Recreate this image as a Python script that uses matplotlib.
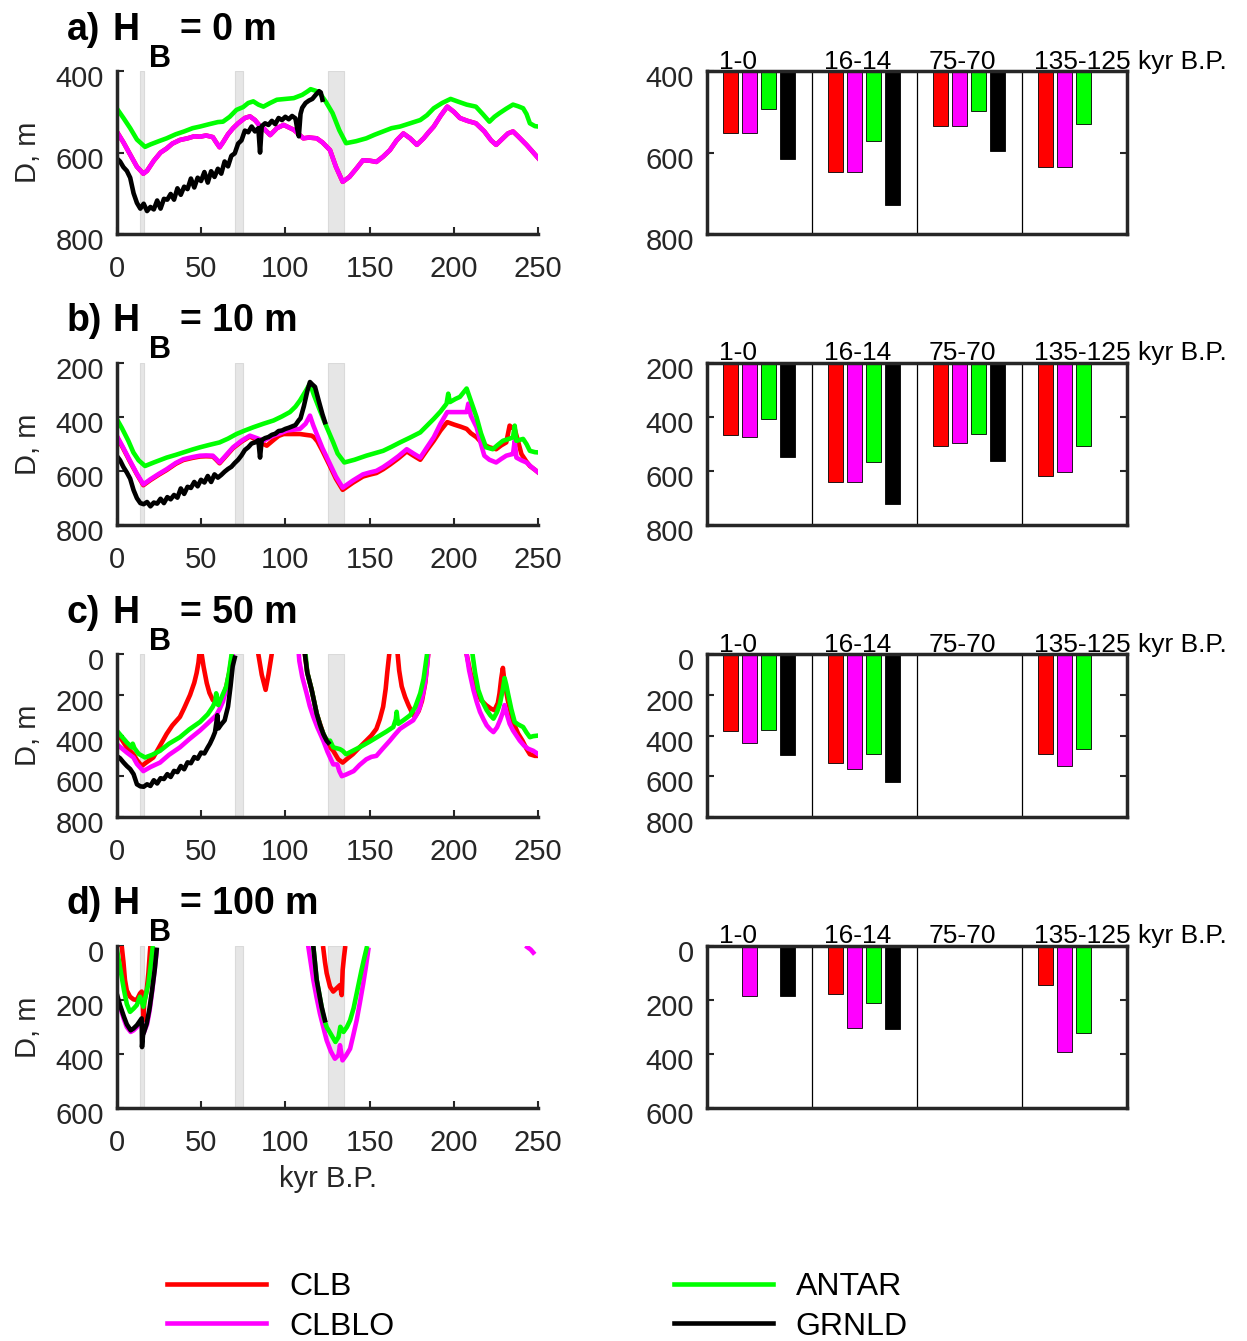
import numpy as np
import matplotlib
matplotlib.use('Agg')
import matplotlib.pyplot as plt
from matplotlib.transforms import ScaledTranslation

plt.rcParams['font.family'] = ['Liberation Sans', 'DejaVu Sans']

nan = np.nan

# time windows (kyr B.P.) shaded on the left and summarised on the right
periods = [(0, 1), (14, 16), (70, 75), (125, 135)]
period_labels = ['1-0', '16-14', '75-70', '135-125']
names = ['CLB', 'CLBLO', 'ANTAR', 'GRNLD']
colors = ['#ff0000', '#ff00ff', '#00ff00', '#000000']
hb_values = [0, 10, 50, 100]
panel_tags = ['a)', 'b)', 'c)', 'd)']
depth_ranges = [(400, 800), (200, 800), (0, 800), (0, 600)]

# ---- D(t) curves, (kyr B.P., depth m); nan breaks a line ----
clblo_a = [(0, 548), (4, 575), (8, 605), (12, 635), (15.8, 652), (18, 645), (22, 620), (26, 600),
           (29.6, 590), (33, 578), (37.5, 569), (42, 565), (46, 560), (49.4, 561), (53, 558), (57, 562),
           (59, 575), (61, 587), (63, 575), (66, 555), (69, 540), (72, 528), (76, 515), (79, 511),
           (82, 520), (85, 535), (87, 540), (91, 557), (95, 540), (99, 532), (102, 538), (105, 544),
           (108, 555), (110.7, 565), (114, 563), (118.6, 565), (122, 575), (126.5, 594), (130, 635),
           (134, 672), (138, 660), (142, 640), (146, 619), (150, 620), (154, 623), (158, 610), (162, 594),
           (166, 570), (170, 553), (174, 565), (178, 581), (182, 565), (185, 550), (188, 536), (192, 510),
           (196, 487), (200, 500), (203.5, 515), (208, 522), (213, 528), (218, 548), (222, 570), (225, 581),
           (229, 565), (232, 553), (235, 548), (238, 560), (243, 581), (246, 595), (250, 614)]
clb_a = list(clblo_a)
antar_a = [(0, 491), (4, 515), (8, 540), (12, 568), (16.8, 586), (20, 580), (25, 572), (29.6, 565),
           (35, 555), (40, 548), (45, 540), (49.4, 536), (55, 530), (60, 525), (63, 524), (67, 512),
           (71, 495), (75, 488), (78, 478), (81, 474), (84, 482), (87, 487), (91, 478), (95, 470),
           (100, 468), (105, 466), (110, 458), (113, 450), (115, 444), (118, 448), (120.5, 454), (124, 475),
           (128, 503), (132, 545), (136, 577), (142, 572), (148, 565), (153, 556), (158, 548), (163, 540),
           (168, 536), (174, 528), (180, 520), (184, 508), (188, 491), (193, 478), (198, 468), (202, 474),
           (207.5, 482), (213, 487), (217, 505), (221, 524), (224, 512), (227, 503), (231, 492), (235, 482),
           (238, 486), (241, 491), (243, 505), (245, 528), (248, 535), (250, 536)]
grnld_a = [(0, 614), (2, 622), (4, 636), (6, 645), (8, 662), (10, 700), (12, 724), (14, 738), (16, 726),
           (18, 744), (20, 734), (22, 740), (24, 718), (26, 738), (28, 714), (30, 716), (32, 702), (34, 716),
           (36, 688), (38, 704), (40, 684), (42, 690), (44, 664), (46, 686), (48, 662), (50, 670), (52, 648),
           (54, 674), (56, 646), (58, 660), (60, 640), (62, 652), (64, 622), (66, 634), (68, 608), (70, 602),
           (72, 578), (74, 570), (76, 546), (78, 550), (80, 536), (82, 548), (84, 540), (85, 600), (86, 535),
           (88, 528), (90, 532), (92, 522), (94, 530), (96, 515), (98, 520), (100, 512), (102, 518),
           (104, 510), (106, 516), (107, 540), (108, 560), (109, 505), (110, 490), (112, 478), (114, 472),
           (116, 468), (118, 458), (120, 449), (121, 452), (122, 470)]

clb_b = [(0, 472), (4, 518), (7.9, 565), (12, 612), (15.8, 652), (20, 633), (25, 613), (29.6, 596),
         (35, 573), (39.5, 559), (45, 551), (49.4, 546), (53, 545), (57, 546), (59, 558), (61, 571),
         (65, 543), (69, 515), (74, 491), (79, 472), (83, 485), (87, 500), (89, 506), (93, 485), (96, 470),
         (99, 463), (104, 463), (108.7, 463), (112, 466), (115.6, 469), (117, 475), (119, 490), (122, 525),
         (126.5, 582), (130, 628), (134, 669), (140, 643), (146, 620), (150, 613), (154, 607), (158, 593),
         (162, 576), (167, 553), (172, 527), (176, 543), (180, 558), (184, 522), (188, 488), (192, 450),
         (196, 419), (200, 428), (204, 436), (207.5, 444), (210, 460), (213.4, 475), (217, 500), (221, 512),
         (225, 519), (228, 505), (231, 494), (233, 432), (234.5, 440), (236, 444), (238, 490), (240, 537),
         (243, 565), (245, 581), (248, 595), (250, 605)]
clblo_b = [(0, 469), (4, 515), (7.9, 562), (12, 610), (15.8, 649), (20, 630), (25, 610), (29.6, 593),
           (35, 570), (39.5, 556), (45, 548), (49.4, 543), (53, 542), (57, 543), (59, 555), (61, 568),
           (65, 540), (69, 512), (74, 488), (79, 469), (83, 478), (87, 488), (90, 478), (93, 469), (97, 460),
           (101, 450), (105, 447), (108.7, 444), (112, 425), (114.6, 395), (116.5, 430), (118.6, 463),
           (122, 515), (126.5, 574), (130, 620), (134, 661), (140, 635), (146, 612), (150, 605), (154, 599),
           (158, 585), (162, 568), (167, 545), (172, 519), (176, 535), (180, 550), (184, 512), (188, 475),
           (192, 425), (196, 382), (200, 382), (204, 382), (207.5, 382), (208.5, 351), (210, 395),
           (213.4, 438), (216, 500), (218, 543), (221, 558), (225, 568), (228, 555), (231, 543), (234, 538),
           (235, 537), (236, 488), (237, 550), (240, 560), (243, 568), (246, 585), (250, 605)]
antar_b = [(0, 407), (3, 440), (6.9, 488), (9.9, 531), (13, 560), (16.8, 581), (22, 568), (29.6, 550),
           (35, 540), (39.5, 531), (45, 520), (49.4, 512), (55, 503), (61, 494), (66, 480), (71, 463),
           (76, 450), (81, 438), (87, 425), (93, 413), (98, 398), (102.7, 382), (106, 362), (108.7, 339),
           (112, 305), (114.6, 277), (117, 320), (120.5, 376), (124, 430), (128.4, 494), (131, 535),
           (135, 568), (141, 558), (148, 543), (153, 534), (158, 525), (163, 510), (168, 494), (174, 476),
           (180, 457), (184, 432), (188, 407), (192, 380), (195.6, 351), (196.6, 314), (197.6, 345),
           (201, 333), (203.5, 326), (207.5, 295), (210, 340), (213.4, 401), (216, 460), (219, 512),
           (223, 519), (226, 503), (229, 488), (233, 480), (235, 475), (236, 432), (237, 488), (241, 481),
           (243, 500), (245, 525), (248, 530), (250, 531)]
grnld_b = [(0, 543), (2, 560), (4, 585), (6, 605), (8, 628), (10, 670), (12, 700), (14, 718), (16, 722),
           (18, 714), (20, 730), (22, 716), (24, 720), (26, 702), (28, 718), (30, 696), (32, 704), (34, 688),
           (36, 698), (38, 664), (40, 684), (42, 658), (44, 662), (46, 640), (48, 656), (50, 632), (52, 642),
           (54, 618), (56, 640), (58, 612), (60, 624), (62, 614), (64, 602), (66, 592), (68, 584), (70, 570),
           (72, 558), (74, 542), (76, 522), (78, 512), (80, 498), (82, 494), (84, 486), (85, 550), (86, 485),
           (88, 478), (90, 474), (92, 466), (94, 462), (96, 452), (98, 450), (100, 444), (102, 440),
           (104, 435), (106, 430), (108, 412), (109, 405), (111, 360), (113, 305), (114.6, 271), (116, 280),
           (117.6, 289), (120, 345), (122, 390), (123.5, 419)]

clb_c = [(0, 383), (3, 420), (5.9, 458), (9.9, 492), (12, 520), (14.8, 550), (18, 530), (21.7, 508),
         (25, 460), (29.6, 392), (33, 350), (37.5, 308), (40, 265), (43.5, 200), (46, 140), (47.4, 92),
         (48.5, 40), (49, 0), (nan, nan),
         (50.4, 0), (51.5, 60), (53.4, 142), (55, 190), (57, 225), (59, 240), (60.5, 250), (63, 215),
         (65, 158), (67, 80), (68.5, 0), (nan, nan),
         (84, 0), (86, 100), (88.3, 175), (90, 100), (91.9, 0), (nan, nan),
         (111.6, 0), (113, 90), (115.6, 175), (118.6, 292), (122.5, 392), (126.5, 458), (128.4, 475),
         (131.4, 517), (134, 533), (137, 512), (140, 492), (144, 458), (148, 425), (151, 400), (154, 367),
         (156, 320), (158, 258), (159.5, 170), (160.4, 92), (161.6, 0), (nan, nan),
         (166.6, 0), (167.5, 80), (169, 158), (171, 210), (173, 250), (175, 285), (176.8, 308), (179, 280),
         (181, 230), (183, 140), (184.7, 0), (nan, nan),
         (207.5, 0), (210, 100), (213.4, 175), (216, 225), (219, 250), (222, 268), (224, 275), (226, 240),
         (227, 192), (228, 120), (229, 67), (230, 142), (232, 230), (235, 333), (238, 390), (240.6, 425),
         (243, 465), (245, 492), (248, 500), (250, 500)]
clblo_c = [(0, 442), (3, 463), (5.9, 483), (9.9, 508), (12, 540), (15.8, 575), (20, 555), (25.7, 533),
           (31, 495), (37.5, 458), (43, 418), (49.4, 375), (54, 340), (59, 300), (61, 270), (63, 233),
           (65, 170), (67, 92), (68.8, 0), (nan, nan),
           (108, 0), (108.3, 33), (110, 110), (112.6, 192), (114.5, 255), (116.6, 308), (119, 360),
           (122.5, 425), (125, 480), (128.4, 542), (130.8, 542), (132, 575), (133.5, 600), (136, 592),
           (140.5, 575), (144, 545), (148, 517), (151, 505), (154, 500), (158, 462), (162, 425), (165, 395),
           (168, 367), (172, 345), (175.8, 325), (178, 295), (179.8, 258), (182, 180), (183.5, 100),
           (184.7, 0), (nan, nan),
           (207.5, 0), (209, 80), (211.5, 175), (213.5, 235), (215.4, 283), (217.5, 320), (219.4, 350),
           (221.5, 370), (223.4, 383), (225.5, 360), (227.3, 325), (229, 285), (230, 250), (231.5, 300),
           (233, 342), (235, 375), (237, 400), (239, 425), (241.6, 450), (244, 465), (247, 475), (250, 492)]
antar_c = [(0, 375), (3, 405), (5.9, 433), (8.9, 458), (9.5, 440), (10.5, 462), (13, 490), (16.8, 508),
           (21, 495), (25.7, 475), (31, 440), (37.5, 408), (43, 370), (49.4, 333), (54, 295), (57, 258),
           (58.5, 230), (59, 192), (59.6, 235), (60.3, 250), (62, 215), (65, 158), (66.5, 95), (68, 8),
           (nan, nan),
           (112, 0), (113, 90), (115.6, 175), (118.6, 292), (121, 360), (123.5, 408), (125.5, 430),
           (126.5, 425), (128.4, 458), (132.4, 467), (134, 475), (136, 492), (140, 475), (144, 458),
           (150, 430), (156, 400), (160, 380), (164, 358), (165.5, 320), (166, 283), (166.5, 320), (167, 342),
           (170, 325), (174, 300), (177, 260), (180, 192), (182, 120), (184, 0), (nan, nan),
           (211, 0), (212.5, 90), (214.4, 175), (217, 235), (219.4, 275), (221.5, 300), (223.4, 317),
           (225.5, 285), (227.3, 242), (229, 170), (230, 117), (231, 150), (232, 192), (234, 270), (236, 333),
           (238, 345), (241, 358), (243, 385), (245, 408), (247, 403), (250, 400)]
grnld_c = [(0, 500), (2, 512), (4, 532), (6, 550), (8, 565), (10, 590), (12, 640), (14, 650), (16, 652),
           (18, 640), (20, 648), (22, 620), (24, 636), (26, 610), (28, 614), (30, 590), (32, 604), (34, 574),
           (36, 580), (38, 550), (40, 566), (42, 532), (44, 536), (46, 506), (48, 514), (50, 484), (52, 488),
           (54, 458), (55.3, 440), (57, 410), (58.3, 383), (59.7, 300), (60.3, 365), (62, 345), (64, 325),
           (66, 258), (67.5, 158), (68.8, 58), (70, 17), (nan, nan),
           (111.6, 0), (113, 90), (115.6, 175), (118.6, 292), (120.5, 345), (122.5, 392), (124.5, 425),
           (125.5, 435)]

clb_d = [(3, 2), (4, 60), (4.9, 126), (6, 165), (7.9, 188), (10, 198), (11.9, 200), (13.8, 176),
         (14.8, 169), (15.5, 200), (15.8, 275), (16.3, 210), (17.8, 163), (18.8, 100), (19.8, 15), (20, 0),
         (nan, nan),
         (122.5, 9), (123.5, 60), (124.5, 101), (126.5, 151), (128.4, 169), (130.4, 157), (132.4, 145),
         (133.4, 182), (134, 89), (134.8, 40), (135.4, 9)]
clblo_d = [(0, 190), (2, 225), (4.3, 272), (6, 300), (8.3, 318), (10, 312), (12, 300), (14.8, 275),
           (16, 322), (18, 290), (19.5, 240), (21, 170), (22.5, 90), (23.7, 20), (nan, nan),
           (113, -40), (113.6, 2), (115, 60), (116.6, 126), (118.5, 190), (120.5, 250), (122.5, 300),
           (124.5, 349), (127, 390), (129.4, 417), (131.5, 404), (132.4, 367), (133.9, 423), (136, 405),
           (138.4, 380), (140.3, 330), (142.3, 275), (144.2, 210), (146.2, 139), (147.7, 80), (149.2, 15),
           (nan, nan),
           (243.5, 5), (245.5, 14), (247, 25)]
antar_d = [(0, 9), (2, 80), (4.3, 163), (6, 215), (7.9, 244), (10, 232), (11.9, 219), (13.8, 188),
           (15.8, 225), (17, 190), (18.8, 139), (20, 80), (21.3, 9), (nan, nan),
           (116.6, 2), (118.6, 126), (121.5, 225), (122.5, 260), (124.5, 300), (126.8, 324), (129.7, 355),
           (131.5, 337), (132.6, 299), (134.5, 318), (136.5, 300), (138.4, 275), (140.5, 230), (142.3, 176),
           (144, 125), (145.2, 89), (146.8, 45), (148.2, 9)]
grnld_d = [(0, 176), (2, 220), (4.3, 262), (6, 290), (8.3, 312), (10, 305), (12, 293), (14.8, 268),
           (15, 374), (15.6, 330), (17.8, 287), (19.5, 230), (21, 163), (22.5, 90), (23.7, 15), (nan, nan),
           (116.6, 2), (118.6, 126), (121.5, 225), (123.5, 275)]

curves = [[clb_a, clblo_a, antar_a, grnld_a],
          [clb_b, clblo_b, antar_b, grnld_b],
          [clb_c, clblo_c, antar_c, grnld_c],
          [clb_d, clblo_d, antar_d, grnld_d]]

# ---- deepest D within each window: CLB, CLBLO, ANTAR, GRNLD per window ----
bars_a = [[553, 647, 535, 635], [553, 647, 535, 635], [492, 572, 498, 530], [617, 728, 596, nan]]
bars_b = [[468, 641, 506, 617], [475, 640, 496, 604], [408, 565, 464, 508], [546, 721, 562, nan]]
bars_c = [[377, 537, nan, 491], [438, 567, nan, 551], [372, 490, nan, 464], [498, 629, nan, nan]]
bars_d = [[nan, 178, nan, 143], [184, 305, nan, 391], [nan, 211, nan, 323], [185, 307, nan, nan]]
bars = [bars_a, bars_b, bars_c, bars_d]

W, H = 1247, 1341
fig = plt.figure(figsize=(W / 100, H / 100), dpi=100)

ink = '#262626'
row_top, row_step, row_h = 71.3, 291.5, 162.5
bar_offsets = [0.227, 0.408, 0.589, 0.770]
label_shift = ScaledTranslation(0, -5 / 100, fig.dpi_scale_trans)


def frac(x0, top, w, h):
    return [x0 / W, 1 - (top + h) / H, w / W, h / H]


def style_yticks(ax):
    for lab in ax.get_yticklabels():
        lab.set_transform(lab.get_transform() + label_shift)


line_handles = []
for i in range(4):
    top = row_top + i * row_step
    lo, hi = depth_ranges[i]

    # left: depth vs time
    ax = fig.add_axes(frac(116.7, top, 421.6, row_h))
    for a, b in periods:
        ax.axvspan(a, b, facecolor='#e6e6e6', edgecolor='#dadada', lw=0.8, zorder=0)
    for pts, c, n in zip(curves[i], colors, names):
        t, d = np.array(pts, dtype=float).T
        ln, = ax.plot(t, d, color=c, lw=3.3, label=n)
        if i == 0:
            line_handles.append(ln)
    ax.set_xlim(0, 250)
    ax.set_ylim(hi, lo)
    ax.set_xticks([0, 50, 100, 150, 200, 250])
    ax.set_yticks(range(lo, hi + 1, 200))
    ax.spines['top'].set_visible(False)
    ax.spines['right'].set_visible(False)
    for s in ('left', 'bottom'):
        ax.spines[s].set_linewidth(2.5)
        ax.spines[s].set_color(ink)
    ax.tick_params(direction='in', length=5, width=1.5, colors=ink, labelsize=21)
    ax.tick_params(axis='x', pad=15)
    ax.tick_params(axis='y', pad=9)
    ax.set_ylabel('D, m', fontsize=21, color=ink, labelpad=10)
    if i == 3:
        ax.set_xlabel('kyr B.P.', fontsize=21, color=ink, labelpad=6)
    style_yticks(ax)

    # panel heading with a dropped subscript
    base_y = 1 - (top - 31.5) / H
    fig.text(66.7 / W, base_y, panel_tags[i], fontsize=27, fontweight='bold', va='baseline')
    fig.text(112.7 / W, base_y, 'H', fontsize=27, fontweight='bold', va='baseline')
    fig.text(149 / W, base_y - 27 / H, 'B', fontsize=22, fontweight='bold', va='baseline')
    fig.text(180 / W, base_y, '= %d m' % hb_values[i], fontsize=27, fontweight='bold', va='baseline')

    # right: deepest D per time window
    bx = fig.add_axes(frac(706.7, top, 420, row_h))
    groups = np.arange(len(periods))
    for j in range(4):
        vals = np.array(bars[i][j], dtype=float)
        bx.bar(groups + bar_offsets[j], vals - lo, bottom=lo, width=0.137, align='center',
               color=colors[j], edgecolor='black', linewidth=0.6)
    for k in range(1, len(periods)):
        bx.axvline(k, color='black', lw=0.9)
    bx.set_xlim(0, len(periods))
    bx.set_ylim(hi, lo)
    bx.set_xticks([])
    bx.set_yticks(range(lo, hi + 1, 200))
    for s in bx.spines.values():
        s.set_linewidth(2.5)
        s.set_color(ink)
    bx.tick_params(axis='y', direction='in', left=True, right=True, length=5, width=1.5,
                   colors=ink, labelsize=21, pad=9)
    for k, lab in enumerate(period_labels):
        txt = lab + ' kyr B.P.' if k == len(period_labels) - 1 else lab
        bx.text(k + 0.115, 1.015, txt, transform=bx.get_xaxis_transform(),
                fontsize=19, ha='left', va='baseline')
    style_yticks(bx)

fig.legend(line_handles, names, ncol=2, loc='upper left',
           bbox_to_anchor=(167 / W, 1 - 1272 / H), frameon=False,
           handlelength=3.1, handletextpad=0.72, columnspacing=8.75, labelspacing=0.3,
           borderpad=0, borderaxespad=0,
           prop={'family': ['Liberation Sans Narrow', 'Liberation Sans'], 'size': 23})

fig.savefig('out.png', dpi=100)
